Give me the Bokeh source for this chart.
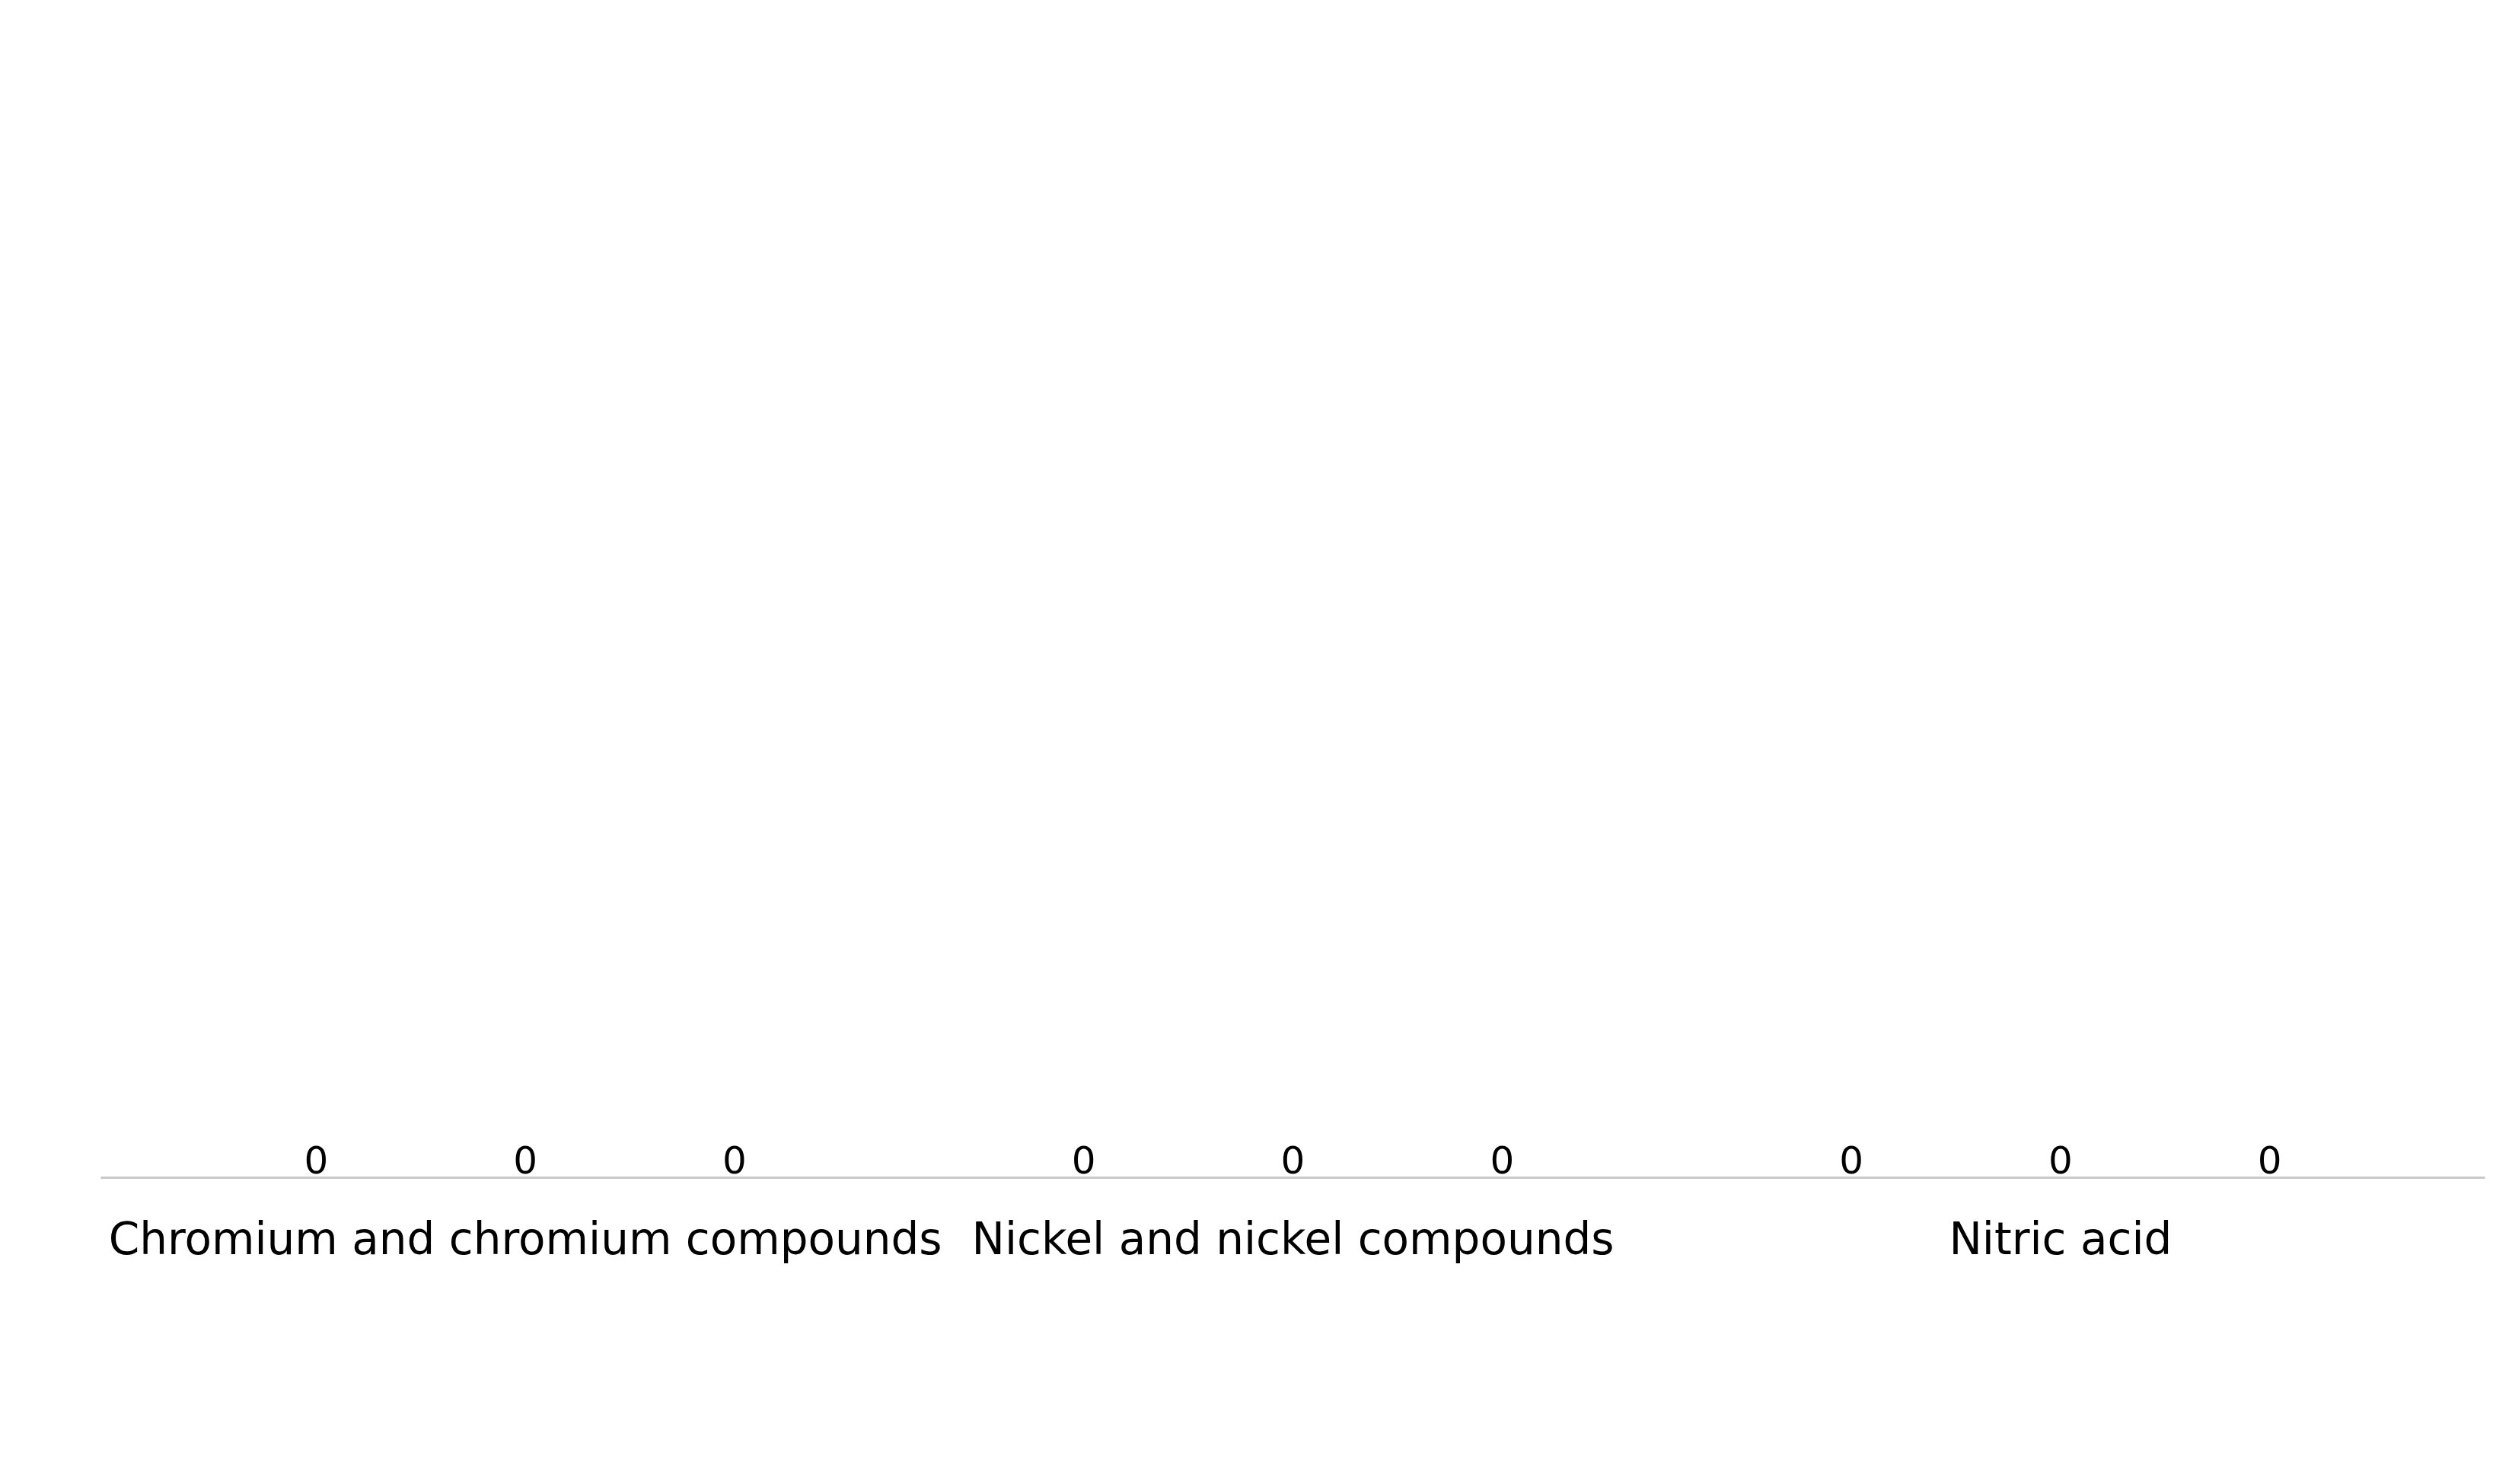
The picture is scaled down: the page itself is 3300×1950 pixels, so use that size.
from bokeh.plotting import figure
from bokeh.models import Legend, LegendItem, FixedTicker, ColumnDataSource, LabelSet
from bokeh.core.properties import value
from bokeh.embed import file_html
from bokeh.resources import INLINE

chemicals = ['Chromium and chromium compounds', 'Nickel and nickel compounds', 'Nitric acid']
series = ['Total RSEI Score', 'RSEI Cancer Score', 'RSEI Non-Cancer Score']
colors = ['#4f81bd', '#c0504d', '#9bbb59']
total = [0, 0, 0]
cancer = [0, 0, 0]
noncancer = [0, 0, 0]

offsets = [-0.2725, 0.0, 0.2725]
values = [total, cancer, noncancer]

p = figure(width=3284, height=1930, x_range=(-0.553, 2.553), y_range=(0, 1),
           output_backend="svg", toolbar_location=None,
           min_border_left=132, min_border_right=20, min_border_top=20,
           min_border_bottom=383)
p.outline_line_color = None
p.grid.visible = False
p.yaxis.visible = False

items = []
for s, c, off, v in zip(series, colors, offsets, values):
    xs = [i + off for i in range(len(chemicals))]
    src = ColumnDataSource(dict(x=xs, top=v, lab=[str(a) for a in v]))
    r = p.vbar(x='x', top='top', width=0.22, source=src, color=c)
    items.append(LegendItem(label=s, renderers=[r]))
    p.add_layout(LabelSet(x='x', y='top', text='lab', source=src, y_offset=6,
                          text_align='center', text_font_size='50px',
                          text_font=value('DejaVu Sans'), text_color='black'))

p.xaxis.ticker = FixedTicker(ticks=[0, 1, 2])
p.xaxis.major_label_overrides = {i: n for i, n in enumerate(chemicals)}
p.xaxis.major_label_text_font_size = '58px'
p.xaxis.major_label_text_font = 'DejaVu Sans'
p.xaxis.major_label_text_color = 'black'
p.xaxis.major_label_standoff = 40
p.xaxis.axis_line_color = '#c8c8c8'
p.xaxis.axis_line_width = 3
p.xaxis.major_tick_line_color = None
p.xaxis.minor_tick_line_color = None

legend = Legend(items=items, orientation='horizontal', location=(355, -341),
                label_text_font_size='58px', label_text_font='DejaVu Sans',
                label_text_color='black',
                glyph_width=123, glyph_height=46, spacing=110, label_standoff=45,
                border_line_color=None, background_fill_alpha=0, margin=0, padding=0)
p.add_layout(legend, 'center')

open("out.html", "w").write(file_html(p, INLINE))
